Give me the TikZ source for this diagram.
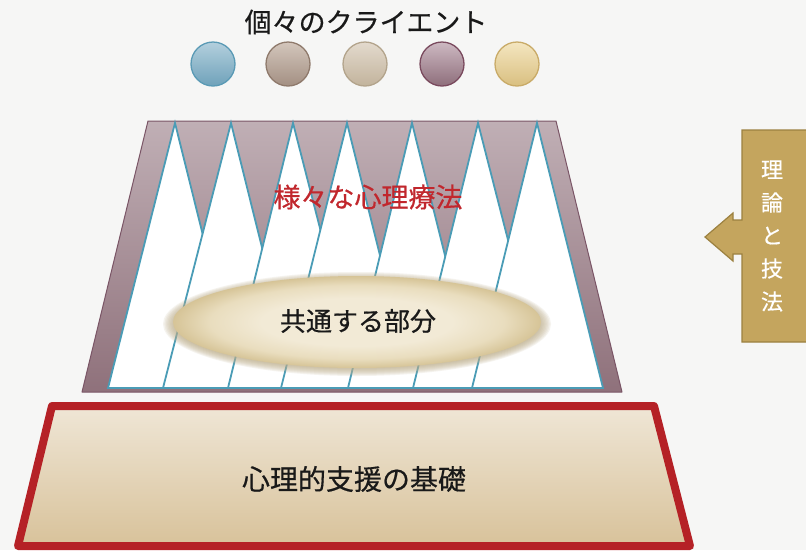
\documentclass[tikz,border=0pt]{standalone}
\usepackage{fontspec}
\newfontfamily\jpfont[FakeBold=0.5]{Noto Sans CJK JP}
\definecolor{bg}{HTML}{F6F6F5}
\definecolor{mauveT}{HTML}{C0AFB5}
\definecolor{mauveB}{HTML}{8F717B}
\definecolor{mauveD}{HTML}{7A5566}
\definecolor{teal}{HTML}{4A9CB6}
\definecolor{txtred}{HTML}{C1272D}
\definecolor{ellL}{HTML}{F2EAD6}
\definecolor{ellM}{HTML}{E9DDBE}
\definecolor{ellD}{HTML}{D6C497}
\definecolor{baseT}{HTML}{EFE6D6}
\definecolor{baseB}{HTML}{D8C29A}
\definecolor{baseR}{HTML}{B52126}
\definecolor{goldF}{HTML}{C4A55E}
\definecolor{goldD}{HTML}{9C8140}
\definecolor{c1T}{HTML}{B3CFDD}\definecolor{c1B}{HTML}{6FA2BA}\definecolor{c1D}{HTML}{5A9AB5}
\definecolor{c2T}{HTML}{D3C6BC}\definecolor{c2B}{HTML}{A38F82}\definecolor{c2D}{HTML}{8F7A6C}
\definecolor{c3T}{HTML}{E3DACD}\definecolor{c3B}{HTML}{C2B39C}\definecolor{c3D}{HTML}{B3A48C}
\definecolor{c4T}{HTML}{CDB9C2}\definecolor{c4B}{HTML}{8E6E7B}\definecolor{c4D}{HTML}{7A4A5E}
\definecolor{c5T}{HTML}{F4E6C0}\definecolor{c5B}{HTML}{D9BF80}\definecolor{c5D}{HTML}{C9AB68}
\pgfdeclareradialshading{ellshade}{\pgfpoint{0bp}{0bp}}{color(0bp)=(ellL); color(13bp)=(ellL); color(20bp)=(ellM); color(25bp)=(ellD); color(50bp)=(ellD)}
\tikzset{
  tri/.style={fill=white, draw=teal, line width=1.8pt, line join=miter},
  client/.style={circle, minimum size=44pt, inner sep=0pt, line width=1.3pt},
  jptext/.style={font=\jpfont\fontsize{#1}{#1}\selectfont, inner sep=0pt},
}
\begin{document}
\begin{tikzpicture}[x=1pt,y=-1pt]
\useasboundingbox (0,0) rectangle (806,550);
\clip (0,0) rectangle (806,550);
\fill[bg] (0,0) rectangle (806,550);

% title and clients
\node[jptext=27, text=black!90] (title) at (366,22) {個々のクライエント};
\node[client, top color=c1T, bottom color=c1B, draw=c1D] (cl1) at (213,64) {};
\node[client, top color=c2T, bottom color=c2B, draw=c2D] (cl2) at (288,64) {};
\node[client, top color=c3T, bottom color=c3B, draw=c3D] (cl3) at (365,64) {};
\node[client, top color=c4T, bottom color=c4B, draw=c4D] (cl4) at (442,64) {};
\node[client, top color=c5T, bottom color=c5B, draw=c5D] (cl5) at (517,64) {};

% upper trapezoid
\shade[top color=mauveT, bottom color=mauveB] (148,121) -- (556,121) -- (622,392) -- (82,392) -- cycle;
\draw[mauveD, line width=1pt, line join=round] (148,121) -- (556,121) -- (622,392) -- (82,392) -- cycle;

% triangles
\foreach \p/\l/\r in {175/108/241, 231/163/297, 293/228/361, 347/281/413, 412/348/478, 478/413/546, 537/472/603}{
  \filldraw[tri] (\p,123) -- (\r,388) -- (\l,388) -- cycle;
}

\node[jptext=27, text=txtred] (therapies) at (368,197) {様々な心理療法};

% common part ellipse
\foreach \k in {0,...,9}{
  \fill[ellD!85!black!90, opacity=0.14] (357,324) ellipse [x radius={(194-1.4*\k)*1pt}, y radius={(52-1.0*\k)*1pt}];
}
\shade[shading=ellshade] (357,322) ellipse [x radius=184pt, y radius=46pt];
\node[jptext=26, text=black!90] (common) at (358,321) {共通する部分};

% base trapezoid
\shade[top color=baseT, bottom color=baseB] (52,406) -- (654,406) -- (690,546) -- (18,546) -- cycle;
\draw[baseR, line width=8pt, line join=round] (52,406) -- (654,406) -- (690,546) -- (18,546) -- cycle;
\node[jptext=28, text=black!90] (base) at (354,479) {心理的支援の基礎};

% theory arrow callout
\fill[goldF] (808,130) -- (742,130) -- (742,220) -- (733,220) -- (733,213) -- (705,237) -- (733,261) -- (733,254) -- (742,254) -- (742,342) -- (808,342) -- cycle;
\draw[goldD, line width=1.2pt, line join=miter] (808,130) -- (742,130) -- (742,220) -- (733,220) -- (733,213) -- (705,237) -- (733,261) -- (733,254) -- (742,254) -- (742,342) -- (808,342);
\node[font=\jpfont\fontsize{22}{33}\selectfont, text=white, align=center, inner sep=0pt] (theory) at (772,236) {理\\論\\と\\技\\法};
\end{tikzpicture}
\end{document}
